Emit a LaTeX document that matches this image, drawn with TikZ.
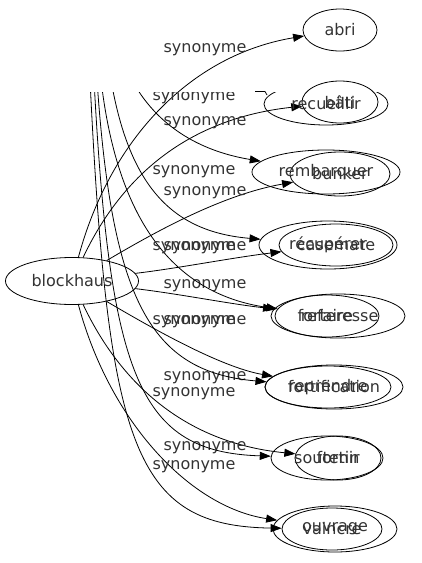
\documentclass[tikz,border=0pt]{standalone}
\usepackage{fontspec}
\setmainfont{DejaVu Sans}
\usetikzlibrary{arrows.meta,shapes.geometric}
\newcommand{\wf}{\fontsize{16}{19}\selectfont}
\tikzset{
  word/.style={ellipse, draw, line width=0.8pt, inner sep=0pt, font=\wf, text=black!80},
  wsize/.style 2 args={minimum width=#1pt, minimum height=#2pt},
  syn/.style={font=\wf, inner sep=0pt, text=black!80},
  link/.style={line width=0.8pt, -{Triangle[length=11pt,width=8pt]}},
}
\begin{document}
\begin{tikzpicture}[x=1pt,y=-1pt]
 \useasboundingbox (0,0) rectangle (422,563);
 % first graph
 \node[word, wsize={133}{47}] (bh) at (72,281) {blockhaus};
 \node[word, wsize={74}{42}] (abri) at (340,30) {abri};
 \node[word, wsize={76}{42}] (bati) at (340,102) {bâti};
 \node[word, wsize={100}{44}] (bunker) at (340,174) {bunker};
 \node[word, wsize={114}{42}] (casemate) at (336,245) {casemate};
 \node[word, wsize={134}{44}] (forteresse) at (338,316) {forteresse};
 \node[word, wsize={138}{44}] (fortif) at (334,387) {fortification};
 \node[word, wsize={86}{44}] (fortin) at (338,458) {fortin};
 \node[word, wsize={124}{46}] (ouvrage) at (335,529) {ouvrage};
 \draw[link] (bh) .. controls (110,140) and (190,55) .. (abri);
 \draw[link] (bh) .. controls (115,190) and (175,120) .. (bati);
 \draw[link] (bh) .. controls (150,235) and (220,195) .. (bunker);
 \draw[link] (bh) .. controls (180,268) and (230,258) .. (casemate);
 \draw[link] (bh) .. controls (180,294) and (230,304) .. (forteresse);
 \draw[link] (bh) .. controls (150,327) and (220,367) .. (fortif);
 \draw[link] (bh) .. controls (115,372) and (175,442) .. (fortin);
 \draw[link] (bh) .. controls (110,422) and (190,507) .. (ouvrage);
 \node[syn] (sAbri) at (205,50) {synonyme};
 \node[syn] (sBati) at (205,123) {synonyme};
 \node[syn] (sBunker) at (205,193) {synonyme};
 \node[syn] (sCasemate) at (205,248) {synonyme};
 \node[syn] (sOuvrage) at (205,286) {synonyme};
 \node[syn] (sForteresse) at (205,322) {synonyme};
 \node[syn] (sFortif) at (205,378) {synonyme};
 \node[syn] (sFortin) at (205,448) {synonyme};
 % second graph, cut at the top
 \begin{scope}
  \clip (0,92) rectangle (422,563);
  \node[word, wsize={124}{42}] (recueillir) at (326,104) {recueillir};
  \node[word, wsize={148}{44}] (rembarquer) at (326,172) {rembarquer};
  \node[word, wsize={138}{48}] (recuperer) at (328,245) {récupérer};
  \node[word, wsize={104}{42}] (refaire) at (327,316) {refaire};
  \node[word, wsize={126}{42}] (reprendre) at (328,387) {reprendre};
  \node[word, wsize={112}{44}] (soutenir) at (327,458) {soutenir};
  \node[word, wsize={100}{42}] (vaincre) at (332,529) {vaincre};
  \coordinate (tRemb) at (133,82);
  \coordinate (tRecup) at (111,80);
  \coordinate (tRefaire) at (101,80);
  \coordinate (tReprendre) at (97,80);
  \coordinate (tSoutenir) at (94,80);
  \coordinate (tVaincre) at (90,80);
  \draw[link] (tRemb) .. controls (160,130) and (205,152) .. (rembarquer);
  \draw[link] (tRecup) .. controls (130,190) and (175,232) .. (recuperer);
  \draw[link] (tRefaire) .. controls (115,200) and (160,292) .. (refaire);
  \draw[link] (tReprendre) .. controls (112,300) and (150,372) .. (reprendre);
  \draw[link] (tSoutenir) .. controls (110,380) and (140,452) .. (soutenir);
  \draw[link] (tVaincre) .. controls (108,450) and (135,526) .. (vaincre);
  \node[syn] (sRemb) at (194,98) {synonyme};
  \node[syn] (sRecup) at (194,172) {synonyme};
  \node[syn] (sRefaire) at (194,248) {synonyme};
  \node[syn] (sReprendre) at (194,322) {synonyme};
  \node[syn] (sSoutenir) at (194,394) {synonyme};
  \node[syn] (sVaincre) at (194,467) {synonyme};
 \end{scope}
 \draw[line width=0.8pt] (255,91.5) -- (265,91.5) -- (267,95);
\end{tikzpicture}
\end{document}
